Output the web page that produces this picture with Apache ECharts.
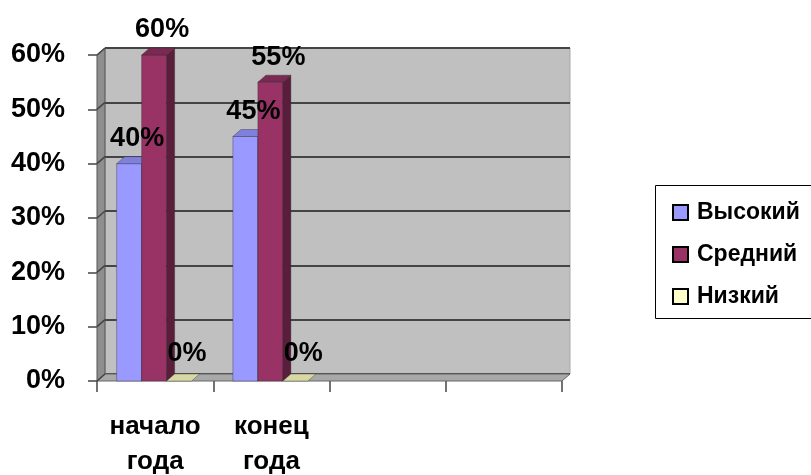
<!DOCTYPE html>
<html>
<head>
<meta charset="utf-8">
<script src="https://cdn.jsdelivr.net/npm/echarts@6/dist/echarts.min.js"></script>
<style>html,body{margin:0;padding:0;background:#fff}#c{width:811px;height:475px}</style>
</head>
<body>
<div id="c"></div>
<script>
const categories = ['начало\nгода', 'конец\nгода', '', ''];
const seriesNames = ['Высокий', 'Средний', 'Низкий'];
const highValues = [0.40, 0.45];
const midValues = [0.60, 0.55];
const lowValues = [0, 0];
const yMax = 0.6;
const yStep = 0.1;

const FONT = '"Liberation Sans", Arial, sans-serif';
const front = { left: 97, right: 562, top: 55, bottom: 381 };
const DX = 8, DY = -7;

const faceColors = [
  { front: '#9999ff', top: '#7f7fdc', side: '#6666b3' },
  { front: '#993366', top: '#7a2952', side: '#5a1e3c' },
  { front: '#ffffcc', top: '#d8d8a4', side: '#b8b890' }
];

function makeRender(sIdx) {
  return function (params, api) {
    const cat = api.value(0), v = api.value(1);
    const p0 = api.coord([cat, 0]);
    const p1 = api.coord([cat, v]);
    const bandW = api.size([1, 0])[0];
    const barW = bandW * 0.215;
    const x0 = p0[0] - 1.5 * barW - 1 + sIdx * barW;
    const yb = p0[1], yt = p1[1];
    const c = faceColors[sIdx];
    const stroke = 'rgba(40,40,40,0.6)';
    const children = [];
    if (yb - yt > 0.5) {
      children.push({ type: 'rect', shape: { x: x0, y: yt, width: barW, height: yb - yt },
        style: { fill: c.front, stroke: stroke, lineWidth: 0.6 } });
      children.push({ type: 'polygon', shape: { points: [[x0 + barW, yt], [x0 + barW + DX, yt + DY], [x0 + barW + DX, yb + DY], [x0 + barW, yb]] },
        style: { fill: c.side, stroke: stroke, lineWidth: 0.6 } });
    }
    children.push({ type: 'polygon', shape: { points: [[x0, yt], [x0 + barW, yt], [x0 + barW + DX, yt + DY], [x0 + DX, yt + DY]] },
      style: { fill: c.top, stroke: stroke, lineWidth: 0.6 } });
    const lblDy = v === 0 ? -27 : -25;
    children.push({ type: 'text', z2: 100, style: { text: Math.round(v * 100) + '%', x: x0 + barW / 2 + 8, y: yt + lblDy,
      align: 'center', verticalAlign: 'middle', fill: '#000', font: 'bold 27px ' + FONT } });
    return { type: 'group', children: children };
  };
}

function toData(arr) { return arr.map((v, i) => [i, v]); }
const allValues = [highValues, midValues, lowValues];

const wallGraphics = [];
wallGraphics.push({ type: 'polygon', z: 1, shape: { points: [[front.left, front.top], [front.left + DX, front.top + DY], [front.left + DX, front.bottom + DY], [front.left, front.bottom]] },
  style: { fill: '#8e8e8e', stroke: '#555', lineWidth: 1 } });
wallGraphics.push({ type: 'polygon', z: 1, shape: { points: [[front.left, front.bottom], [front.right, front.bottom], [front.right + DX, front.bottom + DY], [front.left + DX, front.bottom + DY]] },
  style: { fill: '#a8a8a8', stroke: '#666', lineWidth: 1 } });
const nSteps = Math.round(yMax / yStep);
for (let i = 0; i <= nSteps; i++) {
  const y = front.bottom - (front.bottom - front.top) * i / nSteps;
  wallGraphics.push({ type: 'line', z: 2, shape: { x1: front.left, y1: y, x2: front.left + DX, y2: y + DY },
    style: { stroke: '#444', lineWidth: 1.5 } });
}
wallGraphics.push({ type: 'rect', z: 0, shape: { x: 655.5, y: 185.5, width: 170, height: 133 },
  style: { fill: '#fff', stroke: '#000', lineWidth: 1 } });

const option = {
  backgroundColor: '#fff',
  animation: false,
  textStyle: { fontFamily: FONT },
  grid: [
    { left: front.left, top: front.top, width: front.right - front.left, height: front.bottom - front.top,
      outerBoundsMode: 'none', containLabel: false },
    { left: front.left + DX, top: front.top + DY, width: front.right - front.left, height: front.bottom - front.top,
      outerBoundsMode: 'none', containLabel: false,
      show: true, backgroundColor: '#c0c0c0', borderColor: '#a8a8a8', borderWidth: 1 }
  ],
  xAxis: [
    { type: 'category', gridIndex: 0, data: categories,
      axisLine: { show: false },
      axisTick: { show: true, alignWithLabel: false, length: 11, lineStyle: { color: '#444', width: 1.5 } },
      axisLabel: { margin: 28, fontWeight: 'bold', fontSize: 26, lineHeight: 35, color: '#000', fontFamily: FONT, interval: 0 } },
    { type: 'category', gridIndex: 1, data: categories, show: false }
  ],
  yAxis: [
    { type: 'value', gridIndex: 0, min: 0, max: yMax, interval: yStep,
      axisLine: { show: false },
      axisTick: { show: true, length: 9, lineStyle: { color: '#444', width: 1.5 } },
      splitLine: { show: false },
      axisLabel: { margin: 32, fontWeight: 'bold', fontSize: 27, color: '#000', fontFamily: FONT, padding: [10, 0, 0, 0],
        formatter: v => Math.round(v * 100) + '%' } },
    { type: 'value', gridIndex: 1, min: 0, max: yMax, interval: yStep,
      axisLine: { show: false }, axisTick: { show: false }, axisLabel: { show: false },
      splitLine: { show: true, lineStyle: { color: '#444', width: 2 } } }
  ],
  legend: {
    orient: 'vertical', left: 667, top: 196, itemWidth: 15, itemHeight: 15, itemGap: 19, itemStyle: { borderWidth: 2 },
    textStyle: { fontWeight: 'bold', fontSize: 23, color: '#000', fontFamily: FONT, padding: [0, 0, 0, 4] },
    data: seriesNames.map((n, i) => ({ name: n, icon: 'rect',
      itemStyle: { color: faceColors[i].front, borderColor: '#000', borderWidth: 2 } }))
  },
  graphic: { elements: wallGraphics },
  series: seriesNames.map((n, i) => ({
    name: n, type: 'custom', xAxisIndex: 0, yAxisIndex: 0, z: 10,
    itemStyle: { color: faceColors[i].front },
    renderItem: makeRender(i),
    encode: { x: 0, y: 1 },
    data: toData(allValues[i])
  }))
};

const chart = echarts.init(document.getElementById('c'), null, { renderer: 'canvas' });
chart.setOption(option);
</script>
</body>
</html>
